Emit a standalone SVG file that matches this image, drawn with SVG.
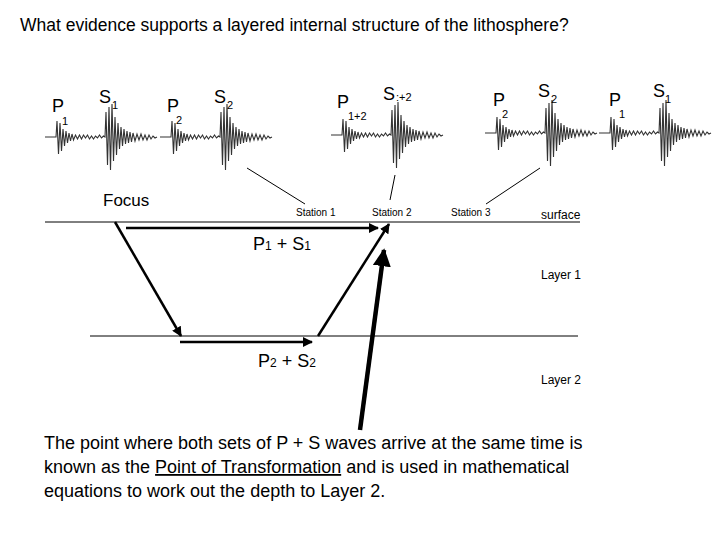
<svg xmlns="http://www.w3.org/2000/svg" xmlns:xlink="http://www.w3.org/1999/xlink" width="720" height="540" viewBox="0 0 720 540">
<style>
text{font-family:"Liberation Sans",Arial,sans-serif;fill:#000}
.lab{font-size:18px}
.sub{font-size:11px}
.st{font-size:10px}
.ln{stroke:#000;stroke-width:1;fill:none}
.ar{stroke:#000;stroke-width:2.5;fill:none;marker-end:url(#ah)}
.wig{stroke:#333;stroke-width:1.1;fill:none}
</style>
<defs>
<marker id="ah" viewBox="0 0 10 10" refX="9" refY="5" markerWidth="4" markerHeight="4" orient="auto"><path d="M0,0L10,5L0,10z" fill="#000"/></marker>
<path id="tr" d="M-12,0 L-1,0 L0,-16 L1.5,17 L3,-14 L4.5,14 L6,-8 L7.5,9 L9,-6 L10.5,6 L12,-4 L13.5,4 L15,-3 L16.5,3 L18.5,-2 L20.5,2 L22.5,-2 L24.5,2 L26.5,-2 L28.5,1 L30.5,-2 L32.5,2 L34.5,-1 L36.5,2 L38.5,-1 L40.5,1 L42.5,-2 L44.5,1 L46.5,-1 L48,0 L49,-25 L50.5,28 L52,-30 L53.5,33 L55,-33 L56.5,24 L58,-20 L59.5,18 L61,-14 L62.5,12 L64,-10 L65.5,9 L67,-8 L68.5,7 L70,-6 L71.5,6 L73,-5 L74.5,5 L76,-4 L78,4 L80,-3 L82,3 L84,-3 L86,3 L88,-2 L90,3 L92,-2 L94,2 L96,-1 L98,1 L100,0"/>
</defs>
<rect width="720" height="540" fill="#fff"/>
<text x="20" y="31" style="font-size:17.5px">What evidence supports a layered internal structure of the lithosphere?</text>
<g id="seismograms">
<use xlink:href="#tr" class="wig" transform="translate(57,137)"/>
<use xlink:href="#tr" class="wig" transform="translate(172,137)"/>
<use xlink:href="#tr" class="wig" transform="translate(343,135)"/>
<use xlink:href="#tr" class="wig" transform="translate(497,133)"/>
<use xlink:href="#tr" class="wig" transform="translate(611,133)"/>
<text x="52" y="112" class="lab">P</text><text x="62" y="125" class="sub">1</text>
<text x="99" y="103" class="lab">S</text><text x="112" y="109" class="sub">1</text>
<text x="167" y="112" class="lab">P</text><text x="176" y="124" class="sub">2</text>
<text x="214" y="103" class="lab">S</text><text x="227" y="109" class="sub">2</text>
<text x="337" y="108" class="lab">P</text><text x="348" y="120" class="sub">1+2</text>
<text x="383" y="100" class="lab">S</text><text x="396" y="101" class="sub">:+2</text>
<text x="493" y="106" class="lab">P</text><text x="502" y="118" class="sub">2</text>
<text x="538" y="97" class="lab">S</text><text x="551" y="103" class="sub">2</text>
<text x="609" y="106" class="lab">P</text><text x="619" y="118" class="sub">1</text>
<text x="653" y="97" class="lab">S</text><text x="665" y="103" class="sub">1</text>
</g>
<g id="connectors">
<line class="ln" x1="247" y1="168" x2="305" y2="204"/>
<line class="ln" x1="395" y1="175" x2="390" y2="200"/>
<line class="ln" x1="540" y1="168" x2="486" y2="204"/>
<line class="ln" x1="45" y1="222" x2="580" y2="222"/>
<line class="ln" x1="90" y1="336" x2="578" y2="336"/>
<line class="ar" x1="115" y1="222" x2="181" y2="336"/>
<line class="ar" x1="126" y1="228" x2="378" y2="228"/>
<line class="ar" x1="180" y1="342" x2="312" y2="342"/>
<line class="ar" x1="318" y1="336" x2="389" y2="224"/>
<line x1="360" y1="430" x2="384" y2="250" stroke="#000" stroke-width="4.5" marker-end="url(#ah)"/>
</g>
<g id="labels">
<text x="103" y="206" style="font-size:17px">Focus</text>
<text x="296" y="216" class="st">Station 1</text>
<text x="372" y="216" class="st">Station 2</text>
<text x="451" y="216" class="st">Station 3</text>
<text x="541" y="219" style="font-size:12px">surface</text>
<text x="253" y="250" style="font-size:18px">P<tspan style="font-size:12px">1</tspan> + S<tspan style="font-size:12px">1</tspan></text>
<text x="541" y="279" style="font-size:12px">Layer 1</text>
<text x="258" y="367" style="font-size:18px">P<tspan style="font-size:12px">2</tspan> + S<tspan style="font-size:12px">2</tspan></text>
<text x="541" y="384" style="font-size:12px">Layer 2</text>
<text x="44" y="449" style="font-size:18px">The point where both sets of P + S waves arrive at the same time is</text>
<text x="44" y="473" style="font-size:18px">known as the <tspan text-decoration="underline">Point of Transformation</tspan> and is used in mathematical</text>
<text x="44" y="497" style="font-size:18px">equations to work out the depth to Layer 2.</text>
</g>
</svg>
